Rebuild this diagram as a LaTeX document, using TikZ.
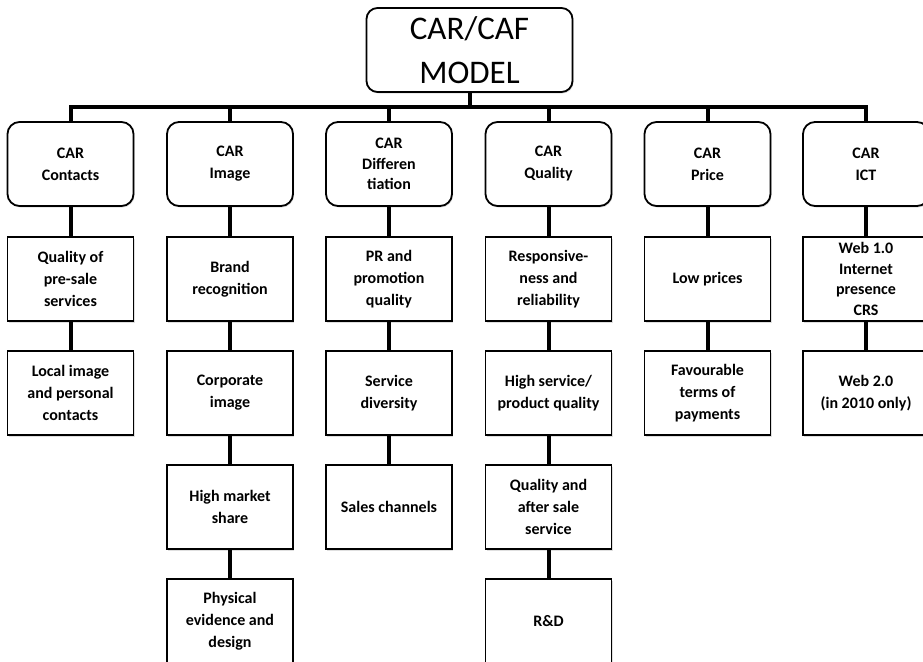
\documentclass[tikz,border=0pt]{standalone}
\usepackage{fontspec}
\setmainfont{Carlito}
\usetikzlibrary{shadows}
\begin{document}
\begin{tikzpicture}[x=1pt,y=-1pt,
  basebox/.style={draw=black, line width=1.8pt, fill=white, align=center,
    minimum width=126pt, minimum height=84pt, inner sep=1pt,
    font=\bfseries\fontsize{16}{22}\selectfont,
    drop shadow={shadow xshift=1pt, shadow yshift=-1.5pt, opacity=0.25}},
  headbox/.style={basebox, rounded corners=12pt},
  itembox/.style={basebox},
  topbox/.style={draw=black, line width=1.8pt, fill=white, align=center,
    rounded corners=11pt, minimum width=206pt, minimum height=84pt,
    font=\fontsize{33}{44}\selectfont,
    drop shadow={shadow xshift=1pt, shadow yshift=-1.5pt, opacity=0.25}},
  conn/.style={draw=black, line width=4pt}]
\useasboundingbox (0,0) rectangle (923,661);
\clip (0,0) rectangle (923,661);

\node[topbox] (top) at (469.5,50) {CAR/CAF\\MODEL};
\coordinate (bus) at (0,107);

% headings
\node[headbox] (h1) at (70.5,164) {CAR\\Contacts};
\node[headbox] (h2) at (230,164) {CAR\\Image};
\node[headbox, font=\bfseries\fontsize{16}{20.5}\selectfont] (h3) at (389,164) {CAR\\Differen\\tiation};
\node[headbox] (h4) at (548.5,164) {CAR\\Quality};
\node[headbox] (h5) at (707.5,164) {CAR\\Price};
\node[headbox] (h6) at (866,164) {CAR\\ICT};

% column 1
\node[itembox] (a1) at (70.5,279) {Quality of\\pre-sale\\services};
\node[itembox] (a2) at (70.5,393) {Local image\\and personal\\contacts};
% column 2
\node[itembox] (b1) at (230,279) {Brand\\recognition};
\node[itembox] (b2) at (230,393) {Corporate\\image};
\node[itembox] (b3) at (230,507) {High market\\share};
\node[itembox] (b4) at (230,621) {Physical\\evidence and\\design};
% column 3
\node[itembox] (c1) at (389,279) {PR and\\promotion\\quality};
\node[itembox] (c2) at (389,393) {Service\\diversity};
\node[itembox] (c3) at (389,507) {Sales channels};
% column 4
\node[itembox] (d1) at (548.5,279) {Responsive-\\ness and\\reliability};
\node[itembox] (d2) at (548.5,393) {High service/\\product quality};
\node[itembox] (d3) at (548.5,507) {Quality and\\after sale\\service};
\node[itembox] (d4) at (548.5,621) {R\&D};
% column 5
\node[itembox] (e1) at (707.5,279) {Low prices};
\node[itembox] (e2) at (707.5,393) {Favourable\\terms of\\payments};
% column 6
\node[itembox, font=\bfseries\fontsize{16}{20.5}\selectfont] (f1) at (866,279) {Web 1.0\\Internet\\presence\\CRS};
\node[itembox] (f2) at (866,393) {Web 2.0\\(in 2010 only)};

% connectors
\draw[conn] (top.south) -- (top.south |- bus);
\draw[conn, line join=miter] (h1.north) -- (h1.north |- bus) -- (h6.north |- bus) -- (h6.north);
\foreach \h in {h2,h3,h4,h5} \draw[conn] (\h.north) -- (\h.north |- bus);
\draw[conn] (h1) -- (a1); \draw[conn] (a1) -- (a2);
\draw[conn] (h2) -- (b1); \draw[conn] (b1) -- (b2); \draw[conn] (b2) -- (b3); \draw[conn] (b3) -- (b4);
\draw[conn] (h3) -- (c1); \draw[conn] (c1) -- (c2); \draw[conn] (c2) -- (c3);
\draw[conn] (h4) -- (d1); \draw[conn] (d1) -- (d2); \draw[conn] (d2) -- (d3); \draw[conn] (d3) -- (d4);
\draw[conn] (h5) -- (e1); \draw[conn] (e1) -- (e2);
\draw[conn] (h6) -- (f1); \draw[conn] (f1) -- (f2);
\end{tikzpicture}
\end{document}
